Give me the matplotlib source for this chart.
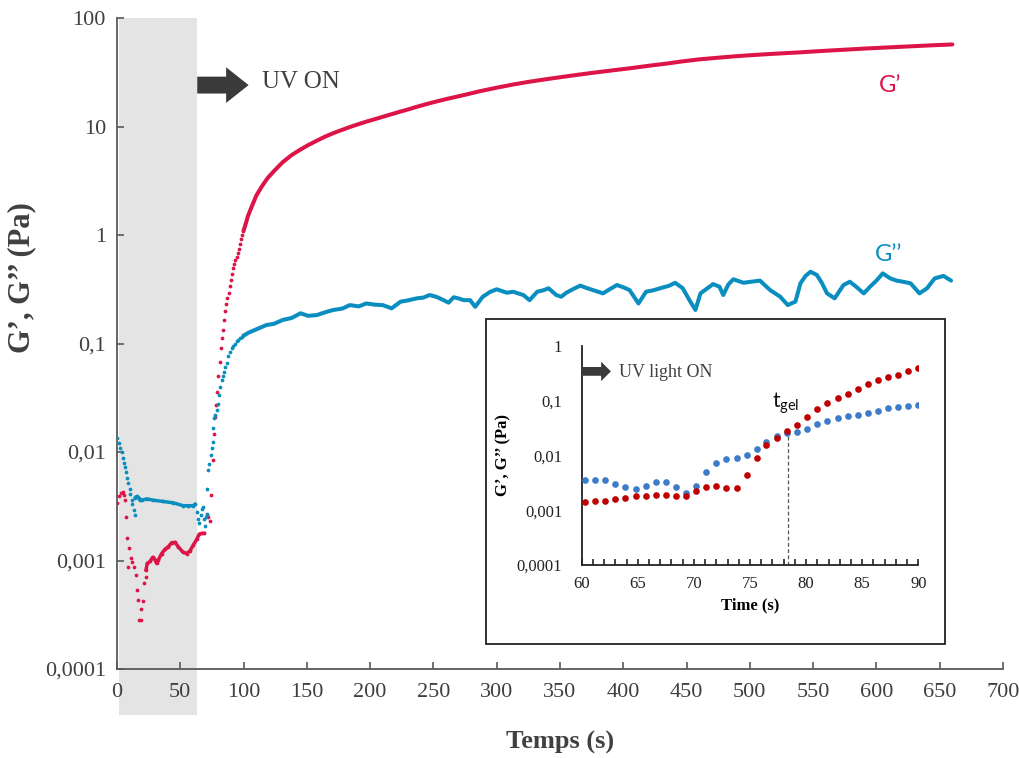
import matplotlib
matplotlib.use("Agg")
import matplotlib.pyplot as plt
from matplotlib.patches import Rectangle
import matplotlib.transforms as mtransforms

# ---------------- data ----------------
# main chart, G' (storage modulus)
gp_dot_t = [0.2, 1.6, 2.9, 4.5, 5.5, 6.3, 6.8, 8.2, 9.0, 9.7, 10.8, 12.1, 13.4, 14.7,
            16.0, 16.8, 17.6, 18.7, 19.2, 20.8, 21.3, 22.7,
            70.8, 72.0, 73.5, 74.6, 75.6, 76.5, 77.4, 78.3, 79.2, 80.1, 81.0, 81.9,
            82.8, 83.7, 84.6, 85.5, 86.4, 87.3, 88.2, 89.1, 90.0, 90.9, 91.8, 92.7,
            93.6, 94.5, 95.4, 96.3, 97.2, 98.1, 99.0, 99.9]
gp_dot_v = [0.0034, 0.0039, 0.0042, 0.0043, 0.0040, 0.0036, 0.0025, 0.0016, 0.00088,
            0.0013, 0.00105, 0.00096, 0.00088, 0.00073, 0.00053, 0.00043, 0.00028,
            0.00028, 0.00036, 0.00042, 0.00062, 0.0007,
            0.0026, 0.0025, 0.0023, 0.0040, 0.0084, 0.0147, 0.021, 0.027, 0.036, 0.050,
            0.068, 0.090, 0.112, 0.132, 0.165, 0.198, 0.232, 0.265, 0.295, 0.34, 0.385,
            0.44, 0.50, 0.545, 0.59, 0.63, 0.69, 0.75, 0.83, 0.92, 1.0, 1.1]
gp_trace1_t = [22.9, 23.9, 26.1, 28.2, 30.0, 31.3, 32.6, 35.3, 37.9, 40.5, 43.2, 45.8,
               48.4, 51.9, 55.0, 57.7, 60.3, 63.0, 65.0, 66.9, 69.0]
gp_trace1_v = [0.00082, 0.00094, 0.00098, 0.00107, 0.00102, 0.00094, 0.00101, 0.00116,
               0.00127, 0.00134, 0.00146, 0.00147, 0.00134, 0.0012, 0.00116, 0.00123,
               0.00139, 0.00157, 0.00175, 0.00178, 0.00178]
gp_trace2_t = [100, 101, 103.5, 106.4, 110, 114.3, 119, 124.8, 131, 138, 144.6, 151.2,
               157.8, 164.3, 171, 177.5, 184, 190.6, 197, 203.8, 210, 217, 223.6,
               230.2, 236, 242, 247, 260, 274, 287, 300, 313, 326, 340, 353, 366, 379,
               392, 405, 420, 434, 447, 460, 474, 487, 500, 513, 527, 540, 553, 566,
               579, 592, 609, 626, 643, 660]
gp_trace2_v = [1.1, 1.19, 1.5, 1.82, 2.3, 2.79, 3.35, 3.97, 4.7, 5.46, 6.1, 6.76, 7.4,
               8.06, 8.7, 9.29, 9.9, 10.5, 11.1, 11.7, 12.3, 13.0, 13.7, 14.4, 15.1,
               15.8, 16.4, 17.9, 19.5, 21.2, 22.8, 24.4, 25.9, 27.4, 28.8, 30.2, 31.6,
               33.0, 34.4, 36.3, 38.0, 39.9, 41.6, 43.0, 44.3, 45.4, 46.4, 47.4, 48.3,
               49.4, 50.4, 51.4, 52.4, 53.6, 54.8, 56.0, 57.1]

# main chart, G'' (loss modulus)
gpp_dot_t = [0.2, 1.6, 2.4, 3.7, 4.5, 5.5, 6.3, 7.1, 8.2, 9.0, 10.0, 10.3, 11.6, 12.1,
             13.2, 14.2,
             63.5, 64.3, 64.8, 66.0, 66.9, 68.2, 69.0, 69.5, 70.3, 70.8, 71.3, 72.2,
             73.0, 74.0, 75.0, 75.6, 76.1, 76.6, 77.7, 78.8, 80.0, 80.9, 81.4, 82.7,
             83.6, 84.5, 85.6, 86.7, 87.9, 89.2, 90.6, 91.9, 93.2, 94.6, 95.9, 97.2,
             98.5, 99.8]
gpp_dot_v = [0.0134, 0.012, 0.011, 0.0099, 0.0089, 0.0080, 0.0072, 0.0065, 0.0058,
             0.0052, 0.0046, 0.0041, 0.0036, 0.0033, 0.0029, 0.0026,
             0.0028, 0.0024, 0.0022, 0.0026, 0.0030, 0.0031, 0.0024, 0.0021, 0.0025,
             0.0046, 0.0027, 0.0068, 0.0078, 0.0093, 0.0110, 0.0124, 0.0165, 0.0204,
             0.022, 0.0244, 0.028, 0.0335, 0.040, 0.046, 0.050, 0.055, 0.061, 0.066,
             0.076, 0.083, 0.090, 0.095, 0.100, 0.105, 0.108, 0.112, 0.116, 0.12]
gpp_trace1_t = [14.5, 15.5, 17, 18.2, 20, 23.4, 28.7, 36.6, 44.5, 52.4, 56, 60.3, 61.6]
gpp_trace1_v = [0.0038, 0.0039, 0.0038, 0.0036, 0.0036, 0.0037, 0.0036, 0.0035,
                0.0034, 0.0032, 0.0032, 0.0032, 0.0033]
gpp_trace2_t = [100, 104, 110, 118, 124, 131, 138, 145, 151, 158, 165, 171, 178, 184,
                191, 197, 204, 210, 217, 224, 230, 237, 242, 247, 252, 255, 262, 266,
                270, 274, 279, 283, 289, 295, 300, 308, 313, 321, 326, 332, 337, 341,
                347, 351, 355, 361, 366, 371, 376, 384, 390, 395, 400, 405, 412, 418,
                424, 429, 436, 441, 447, 453, 457, 461, 466, 471, 476, 479, 483, 487,
                495, 501, 508, 516, 524, 530, 533, 536, 540, 544, 548, 553, 557, 561,
                567, 574, 579, 584, 590, 595, 600, 605, 611, 616, 621, 627, 634, 640,
                646, 653, 659]
gpp_trace2_v = [0.118, 0.126, 0.135, 0.148, 0.152, 0.165, 0.172, 0.19, 0.18, 0.183,
                0.195, 0.204, 0.21, 0.226, 0.22, 0.234, 0.228, 0.226, 0.211, 0.243,
                0.25, 0.261, 0.265, 0.28, 0.27, 0.261, 0.238, 0.267, 0.26, 0.251,
                0.251, 0.218, 0.27, 0.3, 0.316, 0.294, 0.3, 0.28, 0.251, 0.30, 0.31,
                0.323, 0.28, 0.27, 0.294, 0.32, 0.342, 0.325, 0.311, 0.29, 0.32, 0.346,
                0.33, 0.311, 0.234, 0.30, 0.31, 0.323, 0.34, 0.363, 0.323, 0.243,
                0.204, 0.29, 0.32, 0.353, 0.334, 0.28, 0.35, 0.391, 0.363, 0.371, 0.38,
                0.311, 0.27, 0.226, 0.235, 0.243, 0.359, 0.42, 0.459, 0.428, 0.36,
                0.29, 0.261, 0.346, 0.371, 0.334, 0.29, 0.334, 0.38, 0.443, 0.398,
                0.38, 0.371, 0.359, 0.29, 0.323, 0.398, 0.42, 0.38]

# inset (60-90 s)
in_t = [60.3, 61.2, 62.1, 63.0, 63.9, 64.8, 65.7, 66.6, 67.5, 68.4, 69.3, 70.2, 71.1,
        72.0, 72.9, 73.8, 74.7, 75.6, 76.4, 77.4, 78.3, 79.2, 80.1, 81.0, 81.9, 82.8,
        83.7, 84.6, 85.5, 86.4, 87.3, 88.2, 89.1, 90.0]
in_gp = [0.0014, 0.0015, 0.0015, 0.0016, 0.0017, 0.0018, 0.0018, 0.0019, 0.0019,
         0.0018, 0.0018, 0.0022, 0.0027, 0.0028, 0.0025, 0.0025, 0.0043, 0.0091,
         0.0154, 0.021, 0.0274, 0.0352, 0.0493, 0.069, 0.091, 0.113, 0.131, 0.162,
         0.197, 0.233, 0.268, 0.296, 0.345, 0.386]
in_gpp = [0.0035, 0.0035, 0.0035, 0.0030, 0.0026, 0.0024, 0.0028, 0.0033, 0.0033,
          0.0026, 0.0021, 0.0028, 0.0049, 0.0072, 0.0086, 0.0088, 0.0100, 0.0130,
          0.0178, 0.0225, 0.0255, 0.0263, 0.0298, 0.0367, 0.0428, 0.048, 0.052, 0.054,
          0.058, 0.065, 0.072, 0.077, 0.078, 0.082]
t_gel = 78.35

y_ticks = [0.0001, 0.001, 0.01, 0.1, 1, 10, 100]
y_ticklabels = ["0,0001", "0,001", "0,01", "0,1", "1", "10", "100"]
x_ticks = list(range(0, 701, 50))
in_y_ticks = [0.0001, 0.001, 0.01, 0.1, 1]
in_y_ticklabels = ["0,0001", "0,001", "0,01", "0,1", "1"]
in_x_ticks = [60, 65, 70, 75, 80, 85, 90]

# ---------------- style ----------------
RED = "#DC1447"
BLUE = "#0A8EC0"
IN_RED = "#C00000"
IN_BLUE = "#3C7CC8"
DARK = "#404040"
SERIF = ["Liberation Serif", "DejaVu Serif"]
SANS = ["Lato", "DejaVu Sans"]

plt.rcParams["font.family"] = SERIF

fig = plt.figure(figsize=(10.2, 7.58), dpi=100)
ax = fig.add_axes([0.1147, 0.1174, 0.8686, 0.8588])
ax.set_yscale("log")
ax.set_xlim(0, 700)
ax.set_ylim(1e-4, 100)

# UV-off shaded band (extends below the axis)
band = Rectangle((1.5, -0.07), 62.0, 1.07,
                 transform=mtransforms.blended_transform_factory(ax.transData, ax.transAxes),
                 facecolor="#E4E4E4", edgecolor="none", clip_on=False, zorder=0)
ax.add_patch(band)

ms = 2.7
lw = 2.5
ax.plot(gp_dot_t, gp_dot_v, "o", color=RED, ms=ms, mew=0, zorder=3)
ax.plot(gp_trace1_t, gp_trace1_v, "-o", color=RED, ms=ms, mew=0, lw=lw, zorder=3)
ax.plot(gp_trace2_t, gp_trace2_v, "-", color=RED, lw=lw + 0.4, zorder=3,
        solid_capstyle="round", solid_joinstyle="round")
ax.plot(gpp_dot_t, gpp_dot_v, "o", color=BLUE, ms=ms, mew=0, zorder=3)
ax.plot(gpp_trace1_t, gpp_trace1_v, "-o", color=BLUE, ms=ms, mew=0, lw=lw, zorder=3)
ax.plot(gpp_trace2_t, gpp_trace2_v, "-", color=BLUE, lw=lw + 0.4, zorder=3,
        solid_capstyle="round", solid_joinstyle="round")

for s in ["top", "right"]:
    ax.spines[s].set_visible(False)
for s in ["left", "bottom"]:
    ax.spines[s].set_color("#595959")
    ax.spines[s].set_linewidth(1.3)
ax.set_yticks(y_ticks)
ax.set_yticklabels(y_ticklabels)
ax.yaxis.set_minor_locator(matplotlib.ticker.NullLocator())
ax.set_xticks(x_ticks)
ax.tick_params(axis="both", direction="in", length=5, width=1.2, color="#595959",
               labelsize=16, labelcolor=DARK)
ax.tick_params(axis="y", pad=8)
ax.tick_params(axis="x", pad=10)

fig.text(22 / 1020, 1 - 278 / 758, "G’, G’’ (Pa)", rotation=90, ha="center",
         va="center", fontsize=22, fontweight="bold", color=DARK)
fig.text(560 / 1020, 1 - 742 / 758, "Temps (s)", ha="center", va="center",
         fontsize=19, fontweight="bold", color=DARK)

# UV ON arrow
ax.annotate("", xy=(104, 24.1), xytext=(63.4, 24.1),
            arrowprops=dict(arrowstyle="simple,head_length=0.6,head_width=0.95,tail_width=0.45",
                            fc="#3A3A3A", ec="none", mutation_scale=27,
                            shrinkA=0, shrinkB=0))
ax.text(114.5, 26, "UV ON", fontsize=18, color=DARK, va="center", ha="left")

ax.text(611, 24.1, "G’", fontsize=17, color=RED, family=SANS, ha="center", va="center")
ax.text(610, 0.655, "G’’", fontsize=17, color=BLUE, family=SANS, ha="center", va="center")

# inset frame
frame = Rectangle((486 / 1020, 1 - 644 / 758), 459 / 1020, 325 / 758,
                  transform=fig.transFigure, facecolor="white", edgecolor="#222222",
                  linewidth=1.3, zorder=4)
fig.patches.append(frame)

ins = fig.add_axes([581.7 / 1020, 1 - 565 / 758, 336.6 / 1020, 219.3 / 758], zorder=5)
ins.set_facecolor("none")
ins.set_yscale("log")
ins.set_xlim(60, 90)
ins.set_ylim(1e-4, 1)
ins.plot(in_t, in_gpp, "o", color=IN_BLUE, ms=4.8, mew=0, zorder=3)
ins.plot(in_t, in_gp, "o", color=IN_RED, ms=4.8, mew=0, zorder=3)
for s in ["top", "right"]:
    ins.spines[s].set_visible(False)
for s in ["left", "bottom"]:
    ins.spines[s].set_color("#222222")
    ins.spines[s].set_linewidth(1.3)
ins.set_yticks(in_y_ticks)
ins.set_yticklabels(in_y_ticklabels)
ins.yaxis.set_minor_locator(matplotlib.ticker.NullLocator())
ins.set_xticks(in_x_ticks)
ins.xaxis.set_minor_locator(matplotlib.ticker.MultipleLocator(1))
ins.tick_params(axis="y", length=0, labelsize=12, labelcolor="#222222", pad=14)
ins.tick_params(axis="x", which="both", direction="in", length=4, width=1.2,
                color="#222222", labelsize=12, labelcolor="#222222", pad=8)
ins.set_xlabel("Time (s)", fontsize=12, fontweight="bold", labelpad=4)
ins.set_ylabel("G’, G’’ (Pa)", fontsize=12, fontweight="bold", labelpad=4)

ins.annotate("", xy=(62.6, 0.34), xytext=(60.0, 0.34),
             arrowprops=dict(arrowstyle="simple,head_length=0.5,head_width=1.0,tail_width=0.45",
                             fc="#3A3A3A", ec="none", mutation_scale=14,
                             shrinkA=0, shrinkB=0))
ins.text(63.35, 0.33, "UV light ON", fontsize=13, color=DARK, va="center", ha="left")

ins.plot([t_gel, t_gel], [1e-4, 0.026], linestyle=(0, (3, 2)), color="#555555", lw=0.9,
         zorder=2)
ins.text(77.0, 0.075, r"$\mathregular{t_{gel}}$", fontsize=15, family=SANS,
         color="#111111", ha="left", va="baseline")

fig.savefig("out.png", dpi=100)
